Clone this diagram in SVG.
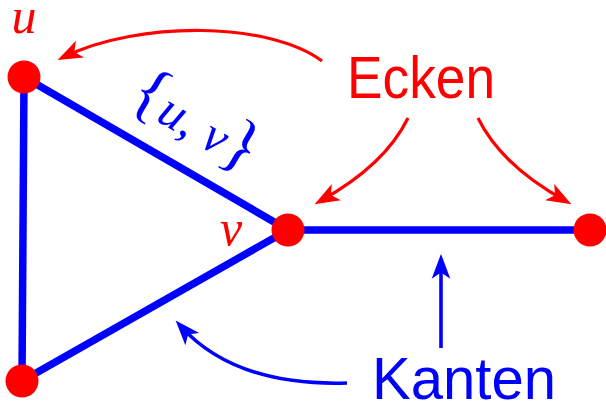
<svg xmlns="http://www.w3.org/2000/svg" width="606" height="406" viewBox="0 0 606 406">
<style>
.edge{stroke:#0000ff;stroke-width:7.5;stroke-linecap:round;fill:none}
.node{fill:#ff0000}
.ra{stroke:#ff0000;stroke-width:3.2;fill:none}
.ba{stroke:#0000ff;stroke-width:3.6;fill:none}
.lbl{font-family:"Liberation Serif",serif;font-style:italic;font-size:50px}
.big{font-family:"Liberation Sans","DejaVu Sans",sans-serif;font-size:60px}
</style>
<defs>
<marker id="ahr" markerUnits="userSpaceOnUse" orient="auto" refX="0" refY="0" markerWidth="40" markerHeight="40" viewBox="-30 -15 45 30" overflow="visible">
<path d="M8,0 L-20,-10.5 L-13,0 L-20,10.5 Z" fill="#ff0000"/>
</marker>
<marker id="ahb" markerUnits="userSpaceOnUse" orient="auto" refX="0" refY="0" markerWidth="40" markerHeight="40" viewBox="-30 -15 45 30" overflow="visible">
<path d="M8,0 L-20,-10.5 L-13,0 L-20,10.5 Z" fill="#0000ff"/>
</marker>
</defs>
<g id="edges">
<line class="edge" x1="24" y1="77" x2="22" y2="381"/>
<line class="edge" x1="24" y1="77" x2="288" y2="230"/>
<line class="edge" x1="22" y1="381" x2="288" y2="230"/>
<line class="edge" x1="288" y1="230" x2="590" y2="230"/>
</g>
<g id="connectors">
<path class="ra" d="M322,61 C270,22 140,20 64,57" marker-end="url(#ahr)"/>
<path class="ra" d="M408,118 Q385,165 320.8,200.7" marker-end="url(#ahr)"/>
<path class="ra" d="M478,118 Q501,165 565.2,200.7" marker-end="url(#ahr)"/>
<path class="ba" d="M441,348 L441,261" marker-end="url(#ahb)"/>
<path class="ba" d="M347,383 C280,385 220,370 180.4,325.9" marker-end="url(#ahb)"/>
</g>
<g id="node-u"><circle class="node" cx="24" cy="77" r="16.5"/><text class="lbl" x="24" y="33" text-anchor="middle" fill="#ff0000">u</text></g>
<g id="node-v"><circle class="node" cx="288" cy="230" r="16.5"/><text class="lbl" x="231" y="245" text-anchor="middle" fill="#ff0000">v</text></g>
<g id="node-r"><circle class="node" cx="590" cy="230" r="16.5"/></g>
<g id="node-b"><circle class="node" cx="22" cy="381" r="16.5"/></g>
<g id="edge-label">
<text class="lbl" fill="#0000ff" text-anchor="middle" font-size="60" transform="translate(186,138) rotate(30.3)" textLength="138" lengthAdjust="spacing"><tspan font-style="normal" font-size="68">{</tspan>u<tspan font-style="normal">, </tspan>v<tspan font-style="normal" font-size="68">}</tspan></text>
</g>
<g id="label-ecken"><text class="big" x="347" y="98" fill="#ff0000" textLength="148" lengthAdjust="spacingAndGlyphs">Ecken</text></g>
<g id="label-kanten"><text class="big" x="372" y="399" fill="#0000ff" textLength="184" lengthAdjust="spacingAndGlyphs">Kanten</text></g>
</svg>
